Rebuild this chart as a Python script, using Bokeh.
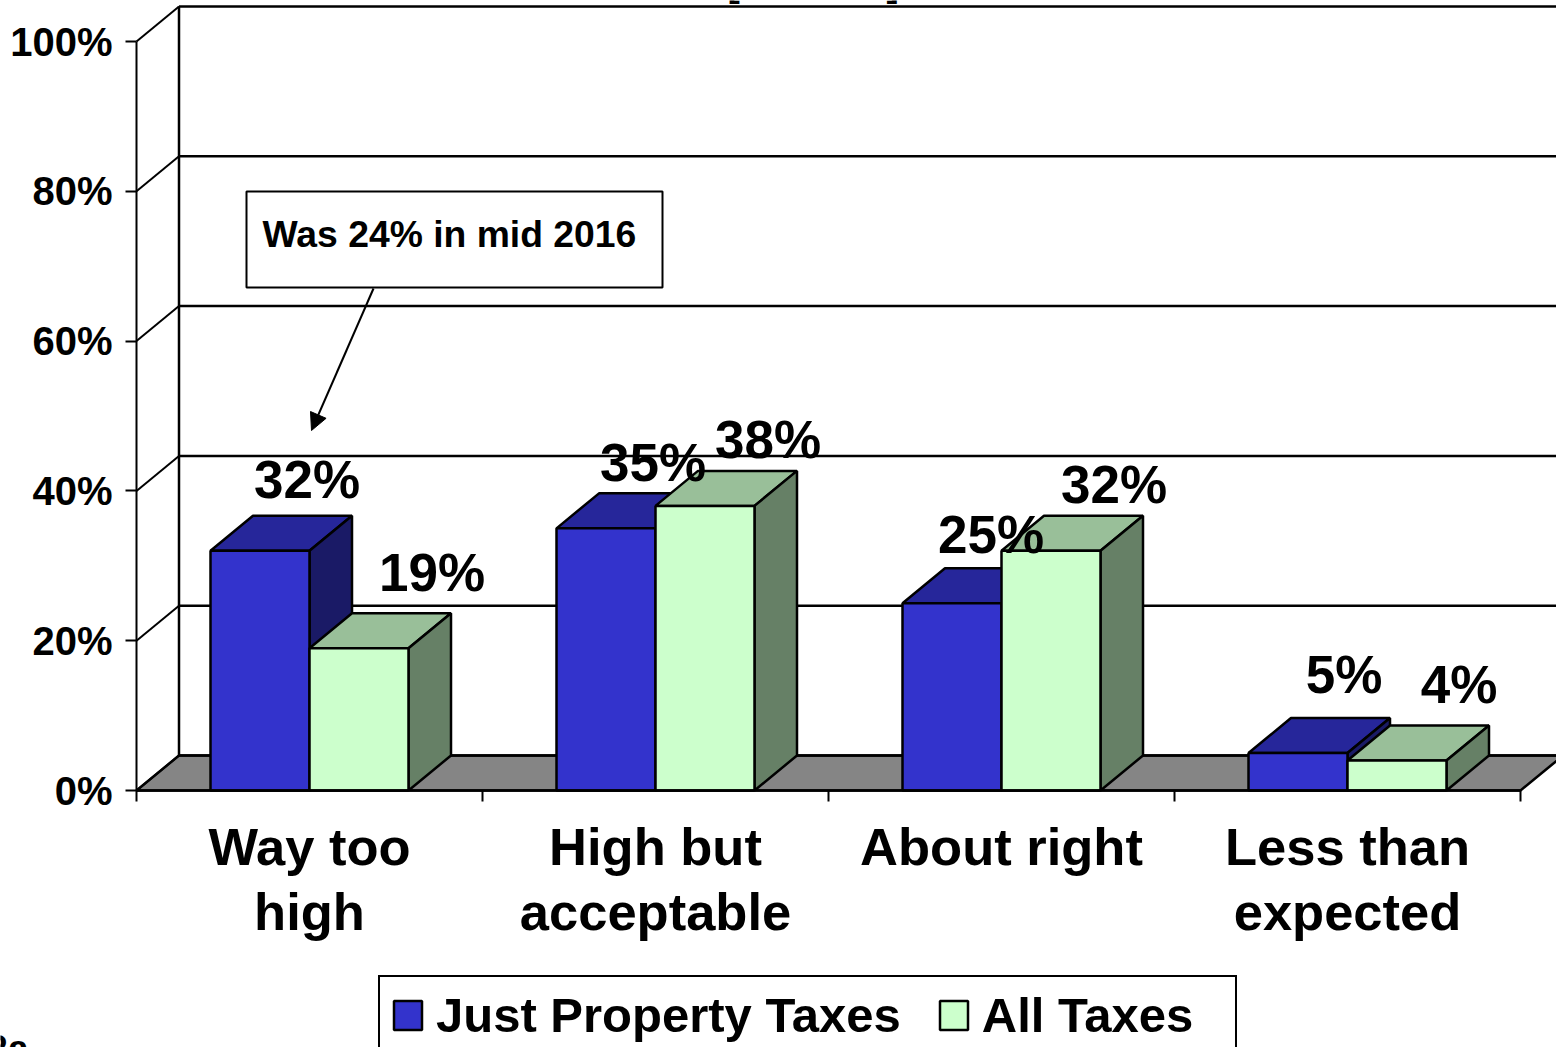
from bokeh.plotting import figure
from bokeh.embed import file_html
from bokeh.resources import INLINE
from bokeh.core.properties import value
from bokeh.models import (Arrow, ColumnDataSource, FixedTicker, Label, Legend, LegendItem,
                          NormalHead, Range1d)

# ---- data ----
categories = ["Way too\nhigh", "High but\nacceptable", "About right", "Less than\nexpected"]
just_property = [32, 35, 25, 5]
all_taxes = [19, 38, 32, 4]
y_ticks = [0, 20, 40, 60, 80, 100]
series_names = ["Just Property Taxes", "All Taxes"]
note_text = "Was 24% in mid 2016"

# ---- label placement (pixels from the top-centre of each bar's front) ----
off_blue = [(47, 71), (47, 66), (39, 69), (46, 79)]
off_green = [(73, 76), (63, 66), (63, 66), (62, 76)]

# ---- geometry ----
PX_X, PX_Y = 346.0, 7.49      # pixels per category, per percent
X0, Y0 = 136, 790             # page pixel of the axes origin
DX, DY = 42.5 / PX_X, 35 / PX_Y  # 3-D depth in data units
BAR_W = 99 / PX_X
FONT = value("Liberation Sans")
BLUE = ("#3333CC", "#26269A", "#1A1A66")
GREEN = ("#CCFFCC", "#99BF99", "#668066")

def dx(px):
    return (px - X0) / PX_X

def dy(px):
    return (Y0 - px) / PX_Y

p = figure(width=1556, height=1047, output_backend="svg", toolbar_location=None,
           x_range=Range1d(dx(0), dx(1556)), y_range=Range1d(dy(1047), dy(0)),
           min_border_left=0, min_border_right=0, min_border_top=0, min_border_bottom=0,
           outline_line_color=None)
p.grid.visible = False

xa = p.xaxis[0]
xa.fixed_location = 0
xa.bounds = (0, 4)
xa.ticker = FixedTicker(ticks=[i + 0.5 for i in range(4)], minor_ticks=list(range(5)))
xa.major_label_overrides = {i + 0.5: c.split("\n")[0] for i, c in enumerate(categories)}
xa.major_tick_out = 0
xa.major_tick_in = 0
xa.minor_tick_out = 11
xa.minor_tick_in = 0
xa.minor_tick_line_width = 2
xa.minor_tick_line_color = "black"
xa.axis_line_width = 2.5
xa.axis_line_color = "black"
xa.major_label_standoff = 15
xa.major_label_text_font = "Liberation Sans"
xa.major_label_text_font_style = "bold"
xa.major_label_text_font_size = "52.5px"
xa.major_label_text_color = "black"

ya = p.yaxis[0]
ya.fixed_location = 0
ya.bounds = (0, 100)
ya.ticker = FixedTicker(ticks=y_ticks)
ya.major_label_overrides = {t: f"{t}%" for t in y_ticks}
ya.major_tick_out = 11
ya.major_tick_in = 0
ya.minor_tick_out = 0
ya.minor_tick_in = 0
ya.major_tick_line_width = 2
ya.major_tick_line_color = "black"
ya.axis_line_width = 2
ya.axis_line_color = "black"
ya.major_label_standoff = 13
ya.major_label_text_font = "Liberation Sans"
ya.major_label_text_font_style = "bold"
ya.major_label_text_font_size = "40px"
ya.major_label_text_color = "black"

# second lines of the category labels
for i, c in enumerate(categories):
    parts = c.split("\n")
    if len(parts) > 1:
        p.add_layout(Label(x=i + 0.5, y=dy(911), text=parts[1], text_font="Liberation Sans",
                           text_font_style="bold", text_font_size="52.5px", text_color="black",
                           text_align="center", text_baseline="alphabetic"))

# floor, back wall, side wall
p.patch([0, DX, 4 + DX, 4], [0, DY, DY, 0], fill_color="#858585", line_color="black", line_width=2.5)
p.segment([DX] * len(y_ticks), [t + DY for t in y_ticks],
          [4 + DX] * len(y_ticks), [t + DY for t in y_ticks], line_color="black", line_width=2.5)
p.segment([0] * len(y_ticks), y_ticks, [DX] * len(y_ticks), [t + DY for t in y_ticks],
          line_color="black", line_width=2)
p.segment([DX], [DY], [DX], [100 + DY], line_color="black", line_width=2.5)


def bar(left, v, cols):
    r = left + BAR_W
    p.patch([left, r, r + DX, left + DX], [v, v, v + DY, v + DY],
            fill_color=cols[1], line_color="black", line_width=2.5)
    p.patch([r, r + DX, r + DX, r], [0, DY, v + DY, v],
            fill_color=cols[2], line_color="black", line_width=2.5)
    return p.quad(left=[left], right=[r], bottom=[0], top=[v],
                  fill_color=cols[0], line_color="black", line_width=2.5)


blue_r = green_r = None
for i in range(4):
    c = i + 0.5
    blue_r = bar(c - BAR_W, just_property[i], BLUE)
    green_r = bar(c, all_taxes[i], GREEN)

# value labels
xs, ys, txt, xo, yo = [], [], [], [], []
for i in range(4):
    c = i + 0.5
    for v, left, off in ((just_property[i], c - BAR_W, off_blue[i]), (all_taxes[i], c, off_green[i])):
        xs.append(left + BAR_W / 2)
        ys.append(v)
        txt.append(f"{v}%")
        xo.append(off[0])
        yo.append(-off[1])
src = ColumnDataSource(dict(x=xs, y=ys, t=txt, xo=xo, yo=yo))
p.text("x", "y", text="t", x_offset="xo", y_offset="yo", source=src, text_font=FONT,
       text_font_style="bold", text_font_size="53px", text_align="center",
       text_baseline="alphabetic", text_color="black")

# note box and arrow
p.quad(left=[dx(246)], right=[dx(662)], bottom=[dy(287)], top=[dy(191)],
       fill_color="white", line_color="black", line_width=2)
p.add_layout(Label(x=dx(262), y=dy(233), text=note_text, text_font="Liberation Sans",
                   text_font_style="bold", text_font_size="37.3px", text_color="black",
                   text_baseline="alphabetic"))
p.add_layout(Arrow(end=NormalHead(size=17, fill_color="black", line_color="black"),
                   x_start=dx(373), y_start=dy(288), x_end=dx(311), y_end=dy(430),
                   line_color="black", line_width=2))

# cropped remains at the page edges
for ch, px in (("[", 727), ("]", 886)):
    p.add_layout(Label(x=dx(px), y=dy(-17), text=ch, text_font="Liberation Sans",
                       text_font_style="bold", text_font_size="37px", text_color="black",
                       text_baseline="alphabetic"))
p.add_layout(Label(x=dx(28), y=dy(1048), text="2a", text_font="Liberation Sans",
                   text_font_style="bold", text_font_size="37px", text_color="black",
                   text_align="right", text_baseline="alphabetic"))

legend = Legend(items=[LegendItem(label=series_names[0], renderers=[blue_r]),
                       LegendItem(label=series_names[1], renderers=[green_r])],
                location=(378, -8), orientation="horizontal",
                glyph_width=35, glyph_height=36, label_standoff=11, spacing=35,
                padding=10, margin=0, label_height=49, label_width=243,
                label_text_font="Liberation Sans", label_text_font_style="bold",
                label_text_font_size="49px", label_text_color="black",
                border_line_color="black", border_line_alpha=1, border_line_width=2.5,
                background_fill_color="white", background_fill_alpha=1)
p.add_layout(legend, "center")

open("out.html", "w").write(file_html(p, INLINE))
